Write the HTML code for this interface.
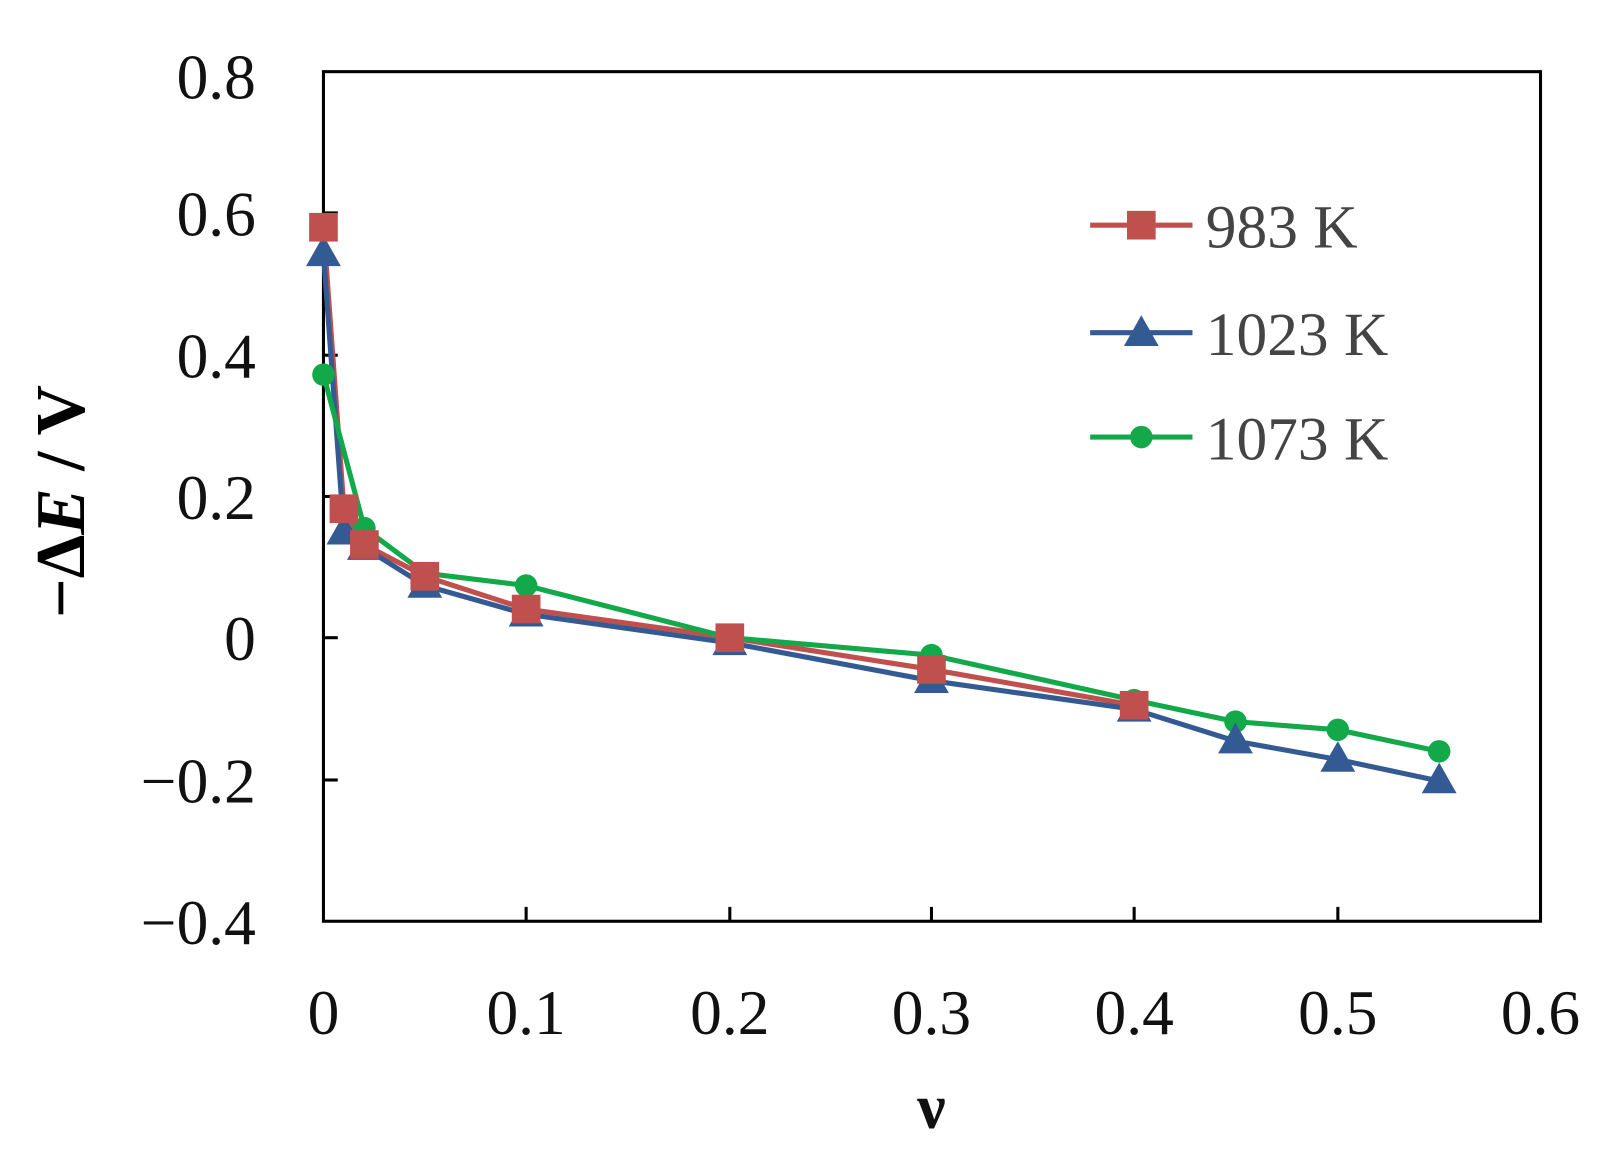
<!DOCTYPE html>
<html><head><style>body{margin:0;background:#fff}</style></head><body>
<svg width="1604" height="1152" xmlns="http://www.w3.org/2000/svg" font-family="Liberation Serif, serif">
<g transform="scale(1.0236)">
<rect x="316" y="70" width="1189" height="830" fill="none" stroke="#000" stroke-width="3"/>
<g stroke="#000" stroke-width="3">
<line x1="316" y1="208" x2="330" y2="208"/><line x1="316" y1="347" x2="330" y2="347"/><line x1="316" y1="485" x2="330" y2="485"/><line x1="316" y1="623" x2="330" y2="623"/><line x1="316" y1="762" x2="330" y2="762"/>
<line x1="514" y1="900" x2="514" y2="886"/><line x1="713" y1="900" x2="713" y2="886"/><line x1="910" y1="900" x2="910" y2="886"/><line x1="1108" y1="900" x2="1108" y2="886"/><line x1="1307" y1="900" x2="1307" y2="886"/>
</g>
<g font-size="62" text-anchor="end" fill="#111">
<text x="250" y="96">0.8</text><text x="250" y="230">0.6</text><text x="250" y="369">0.4</text><text x="250" y="507">0.2</text><text x="250" y="645">0</text><text x="250" y="784">−0.2</text><text x="250" y="922">−0.4</text>
</g>
<g font-size="62" text-anchor="middle" fill="#111">
<text x="316" y="1010">0</text><text x="514" y="1010">0.1</text><text x="713" y="1010">0.2</text><text x="910" y="1010">0.3</text><text x="1108" y="1010">0.4</text><text x="1307" y="1010">0.5</text><text x="1505" y="1010">0.6</text>
<text x="910" y="1102" font-weight="bold">ν</text>
</g>
<text transform="translate(82,490) rotate(-90)" font-size="68" font-weight="bold" text-anchor="middle">−Δ<tspan font-style="italic">E</tspan> / V</text>
<g fill="none" stroke-width="5">
<polyline stroke="#c0504d" points="316,222 336,497 356,532 415,563 514,595 713,623 910,654 1108,689"/>
<polyline stroke="#345a94" points="316,248 336,520 356,535 415,572 514,600 713,628 910,665 1108,693 1207,724 1307,742 1406,763"/>
<polyline stroke="#13a94a" points="316,366 356,516 415,560 514,572 713,623 910,640 1108,684 1207,705 1307,713 1406,734"/>
</g>
<g fill="#13a94a">
<circle cx="316" cy="366" r="11"/><circle cx="356" cy="516" r="11"/><circle cx="415" cy="560" r="11"/><circle cx="514" cy="572" r="11"/><circle cx="713" cy="623" r="11"/><circle cx="910" cy="640" r="11"/><circle cx="1108" cy="684" r="11"/><circle cx="1207" cy="705" r="11"/><circle cx="1307" cy="713" r="11"/><circle cx="1406" cy="734" r="11"/>
</g>
<g fill="#345a94">
<polygon points="316,230 299,260 333,260"/><polygon points="336,502 319,532 353,532"/><polygon points="356,517 339,547 373,547"/><polygon points="415,554 398,584 432,584"/><polygon points="514,582 497,612 531,612"/><polygon points="713,610 696,640 730,640"/><polygon points="910,647 893,677 927,677"/><polygon points="1108,675 1091,705 1125,705"/><polygon points="1207,706 1190,736 1224,736"/><polygon points="1307,724 1290,754 1324,754"/><polygon points="1406,745 1389,775 1423,775"/>
</g>
<g fill="#c0504d">
<rect x="302" y="208" width="28" height="28"/><rect x="322" y="483" width="28" height="28"/><rect x="342" y="518" width="28" height="28"/><rect x="401" y="549" width="28" height="28"/><rect x="500" y="581" width="28" height="28"/><rect x="699" y="609" width="28" height="28"/><rect x="896" y="640" width="28" height="28"/><rect x="1094" y="675" width="28" height="28"/>
</g>
<line x1="1065" y1="220" x2="1165" y2="220" stroke="#c0504d" stroke-width="5"/><rect x="1101" y="206" width="28" height="28" fill="#c0504d"/>
<line x1="1065" y1="325" x2="1165" y2="325" stroke="#345a94" stroke-width="5"/><polygon points="1115,308 1098,338 1132,338" fill="#345a94"/>
<line x1="1065" y1="427" x2="1165" y2="427" stroke="#13a94a" stroke-width="5"/><circle cx="1115" cy="427" r="11" fill="#13a94a"/>
<g font-size="60" fill="#444"><text x="1178" y="242">983 K</text><text x="1178" y="347">1023 K</text><text x="1178" y="449">1073 K</text></g>
</g>
</svg>
</body></html>
